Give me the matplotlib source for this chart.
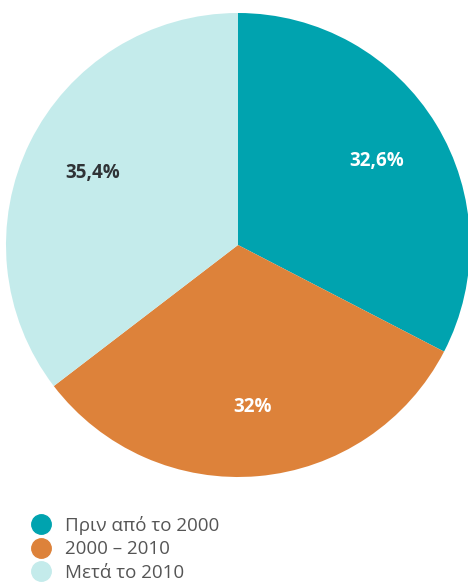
import matplotlib
matplotlib.use('Agg')
import matplotlib.pyplot as plt
from matplotlib.lines import Line2D
import numpy as np

labels = ['Πριν από το 2000', '2000 – 2010', 'Μετά το 2010']
values = [32.6, 32.0, 35.4]
pct_text = ['32,6%', '32%', '35,4%']
colors = ['#00A3AF', '#DD823A', '#C4EBEB']
text_colors = ['white', 'white', '#2f3336']

plt.rcParams['font.family'] = ['Open Sans', 'DejaVu Sans']

W, H = 468, 583
fig = plt.figure(figsize=(W / 100, H / 100), dpi=100)
ax = fig.add_axes([6 / W, (H - 477) / H, 464 / W, 464 / H])

wedges, _ = ax.pie(values, colors=colors, startangle=90, counterclock=False,
                   radius=1.0, wedgeprops=dict(linewidth=0))
ax.set_xlim(-1, 1)
ax.set_ylim(-1, 1)
ax.set_aspect('equal')
ax.axis('off')

# percent labels at the middle of each wedge
start = 90.0
for v, t, c in zip(values, pct_text, text_colors):
    mid = np.deg2rad(start - v * 3.6 / 2)
    ax.text(0.70 * np.cos(mid), 0.70 * np.sin(mid), t, ha='center', va='center',
            fontsize=13.5, fontweight='bold', color=c)
    start -= v * 3.6

handles = [Line2D([0], [0], marker='o', linestyle='none', markersize=14,
                  markerfacecolor=c, markeredgecolor=c) for c in colors]
fig.legend(handles, labels, loc='upper left', bbox_to_anchor=(30 / W, 1 - 516 / H),
           frameon=False, fontsize=13.5, labelcolor='#555555', handletextpad=0.67,
           labelspacing=0.28, borderaxespad=0, borderpad=0, handlelength=1.2)

fig.savefig('out.png', dpi=100)
